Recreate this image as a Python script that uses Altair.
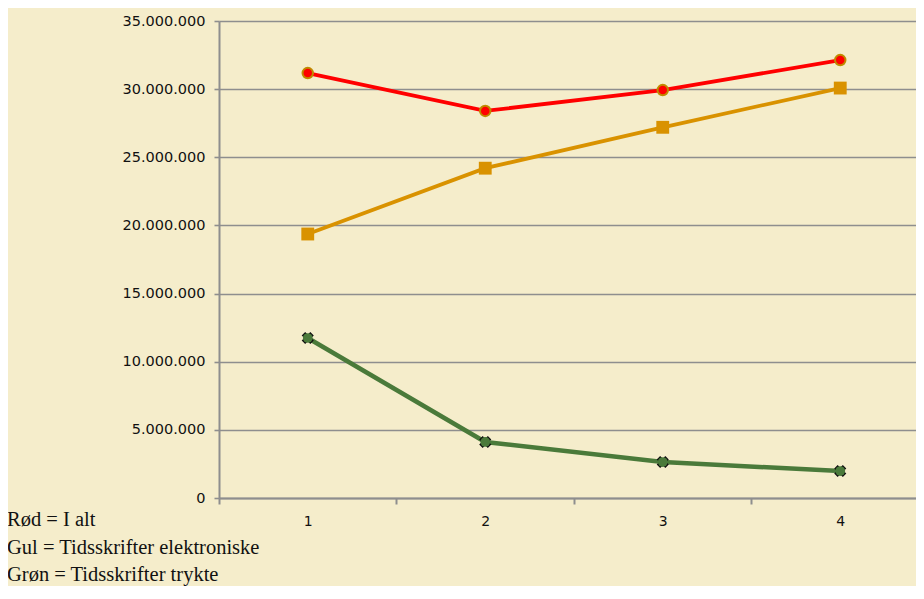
import altair as alt
import pandas as pd

x_vals = [1, 2, 3, 4]
total = [31180000, 28400000, 29930000, 32130000]
elektron = [19370000, 24200000, 27200000, 30080000]
trykte = [11740000, 4110000, 2640000, 1980000]
series = ["I alt", "Tidsskrifter elektroniske", "Tidsskrifter trykte"]
legend_lines = ["Rød = I alt", "Gul = Tidsskrifter elektroniske", "Grøn = Tidsskrifter trykte"]
y_ticks = [0, 5000000, 10000000, 15000000, 20000000, 25000000, 30000000, 35000000]
x_ticks = [0.5, 1, 1.5, 2, 2.5, 3, 3.5, 4]

df = pd.DataFrame({
    "x": x_vals * 3,
    "v": total + elektron + trykte,
    "s": [series[0]] * 4 + [series[1]] * 4 + [series[2]] * 4,
})

GRID = "#8E8E8E"
xscale = alt.Scale(domain=[0.5, 4.4268], nice=False, zero=False)
yscale = alt.Scale(domain=[0, 35000000], nice=False)

xaxis = alt.Axis(
    values=x_ticks,
    labelExpr="datum.value % 1 == 0 ? format(datum.value, 'd') : ''",
    labelOverlap=False,
    tickOpacity={"condition": {"test": "datum.value % 1 == 0", "value": 0}, "value": 1},
    grid=False, title=None, domainColor=GRID, domainWidth=2, tickColor=GRID,
    tickWidth=2, tickSize=6, labelFont="DejaVu Sans", labelFontSize=14,
    labelColor="#111111", labelPadding=10,
)
yaxis = alt.Axis(
    values=y_ticks, format=",d", grid=True, gridColor=GRID, gridWidth=1.6,
    title=None, domainColor=GRID, domainWidth=2, tickColor=GRID, tickWidth=1.6,
    tickSize=5, labelFont="DejaVu Sans", labelFontSize=14.5, labelColor="#111111",
    labelPadding=9,
)

base = alt.Chart(df).encode(
    x=alt.X("x:Q", scale=xscale, axis=xaxis),
    y=alt.Y("v:Q", scale=yscale, axis=yaxis),
)

def sel(name):
    return base.transform_filter(alt.datum.s == name)

red_line = sel(series[0]).mark_line(color="#FF0000", strokeWidth=3.8)
red_pts = sel(series[0]).mark_point(shape="circle", filled=True, fill="#FF0000",
                                    stroke="#C08A00", strokeWidth=2, size=110, opacity=1)
org_line = sel(series[1]).mark_line(color="#D99200", strokeWidth=3.8)
org_pts = sel(series[1]).mark_point(shape="square", filled=True, fill="#D99200",
                                    size=165, opacity=1)
grn_line = sel(series[2]).mark_line(color="#4A7A3A", strokeWidth=4.5)
grn_x = sel(series[2]).mark_point(shape="cross", angle=45, filled=True, fill="#111111",
                                  size=150, opacity=1)
grn_pts = sel(series[2]).mark_point(shape="circle", filled=True, fill="#4A7A3A",
                                    size=95, opacity=1)

texts = []
for i, line in enumerate(legend_lines):
    t = alt.Chart(pd.DataFrame({"t": [line]})).mark_text(
        font="Liberation Serif", fontSize=20.5, align="left", baseline="alphabetic",
        color="#111111",
    ).encode(text="t:N", x=alt.value(-212), y=alt.value(505 + i * 27.5))
    texts.append(t)

chart = alt.layer(
    grn_line, grn_x, grn_pts, org_line, org_pts, red_line, red_pts, *texts
).properties(
    width=697, height=477,
    autosize=alt.AutoSizeParams(type="none"),
    padding={"left": 211, "top": 13, "right": 0, "bottom": 88},
    background="#F5EDCB",
).configure_view(stroke=None).configure(
    locale={"number": {"decimal": ",", "thousands": ".", "grouping": [3], "currency": ["", ""]}}
)

chart.save("out.html", embed_options={"renderer": "svg", "actions": False})
